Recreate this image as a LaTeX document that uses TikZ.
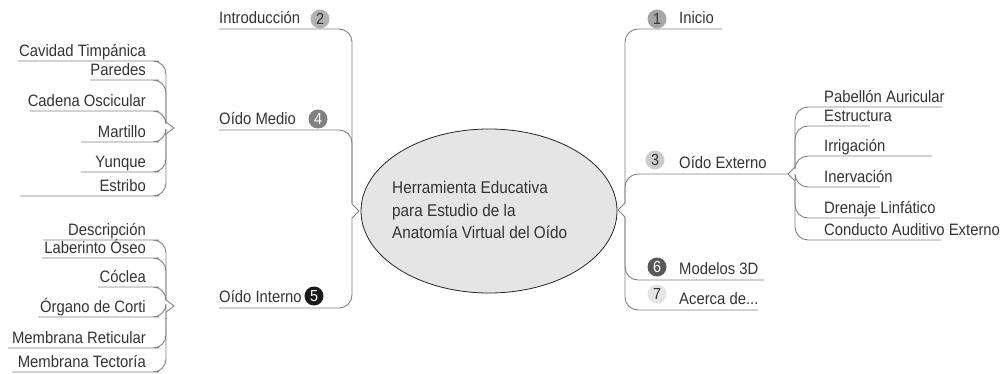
\documentclass[tikz,border=0pt]{standalone}
\usepackage{fontspec}
\setmainfont{Liberation Sans}[FakeStretch=0.9]
\usetikzlibrary{shapes.geometric}
\definecolor{txtgray}{HTML}{333333}
\definecolor{linegray}{HTML}{808080}
\tikzset{
  topic/.style={inner sep=0pt, inner ysep=5pt, text depth=0pt, text=txtgray,
    font=\fontsize{16.5}{19}\selectfont},
  leaf/.style={topic, inner ysep=4pt},
  badge/.style={circle, inner sep=0pt, minimum size=19pt, text=txtgray,
    font=\fontsize{16}{16}\selectfont},
  link/.style={draw=linegray, line width=0.9pt, rounded corners=13pt},
  notch/.style={draw=linegray, line width=0.9pt},
}
\begin{document}
\begin{tikzpicture}[x=1pt,y=-1pt]
\useasboundingbox (0,0) rectangle (1006,374);

% centre
\node[ellipse, draw=black!85, fill=black!10, line width=0.8pt, inner sep=0pt,
  minimum width=256pt, minimum height=164pt] (main) at (489,211) {};
\node[anchor=west, align=left, inner sep=0pt, text=txtgray,
  font=\fontsize{17}{22.5}\selectfont] (title) at (392,210)
  {Herramienta Educativa\\para Estudio de la\\Anatomía Virtual del Oído};

% left side
\coordinate (ltop) at (352,204);
\coordinate (ltip) at (359,211);
\coordinate (lbot) at (352,218);
\draw[notch] (ltop) -- (ltip) -- (lbot);

\node[topic, anchor=south west] (intro) at (219,29) {Introducción};
\node[badge, fill=black!30] (n2) at (320,19) {2};
\node[topic, anchor=south west] (medio) at (219,130) {Oído Medio};
\node[badge, fill=black!50, text=white] (n4) at (318,119) {4};
\node[topic, anchor=south west] (interno) at (219,308) {Oído Interno};
\node[badge, fill=black!90, text=white] (n5) at (314,296) {5};

\draw[link] (intro.south west) -| (ltop);
\draw[link] (medio.south west) -| (ltop);
\draw[link] (interno.south west) -| (lbot);

% oido medio
\coordinate (mtop) at (166,122);
\coordinate (mtip) at (174,128);
\coordinate (mbot) at (166,134);
\draw[notch] (mtop) -- (mtip) -- (mbot);

\node[leaf, anchor=south east] (cavidad) at (146,61) {Cavidad Timpánica};
\node[leaf, anchor=south east] (paredes) at (146,80) {Paredes};
\node[leaf, anchor=south east] (cadena) at (146,111) {Cadena Oscicular};
\node[leaf, anchor=south east] (martillo) at (146,142) {Martillo};
\node[leaf, anchor=south east] (yunque) at (146,172) {Yunque};
\node[leaf, anchor=south east] (estribo) at (146,196) {Estribo};

\draw[link] (mtop) |- (cavidad.south east) -- ++(-128,0);
\draw[link] (mtop) |- (paredes.south east) -- ++(-56,0);
\draw[link] (mtop) |- (cadena.south east) -- ++(-116,0);
\draw[link] (mbot) |- (martillo.south east) -- ++(-65,0);
\draw[link] (mbot) |- (yunque.south east) -- ++(-65,0);
\draw[link] (mbot) |- (estribo.south east) -- ++(-126,0);

% oido interno
\coordinate (itop) at (166,300);
\coordinate (itip) at (174,306);
\coordinate (ibot) at (166,312);
\draw[notch] (itop) -- (itip) -- (ibot);

\node[leaf, anchor=south east] (descr) at (146,240) {Descripción};
\node[leaf, anchor=south east] (laberinto) at (146,258) {Laberinto Óseo};
\node[leaf, anchor=south east] (coclea) at (146,287) {Cóclea};
\node[leaf, anchor=south east] (corti) at (146,317) {Órgano de Corti};
\node[leaf, anchor=south east] (reticular) at (146,348) {Membrana Reticular};
\node[leaf, anchor=south east] (tectoria) at (146,372) {Membrana Tectoría};

\draw[link] (itop) |- (descr.south east) -- ++(-103,0);
\draw[link] (itop) |- (laberinto.south east) -- ++(-104,0);
\draw[link] (itop) |- (coclea.south east) -- ++(-48,0);
\draw[link] (ibot) |- (corti.south east) -- ++(-108,0);
\draw[link] (ibot) |- (reticular.south east) -- ++(-138,0);
\draw[link] (ibot) |- (tectoria.south east) -- ++(-134,0);

% right side
\coordinate (rtop) at (625,203);
\coordinate (rtip) at (618,210);
\coordinate (rbot) at (625,217);
\draw[notch] (rtop) -- (rtip) -- (rbot);

\node[badge, fill=black!35] (n1) at (657,19) {1};
\node[topic, anchor=south west] (inicio) at (679,29) {Inicio};
\node[badge, fill=black!20] (n3) at (655,160) {3};
\node[topic, anchor=south west] (externo) at (679,174) {Oído Externo};
\node[badge, fill=black!65, text=white] (n6) at (657,267) {6};
\node[topic, anchor=south west] (modelos) at (679,280) {Modelos 3D};
\node[badge, fill=black!10] (n7) at (657,294) {7};
\node[topic, anchor=south west] (acerca) at (679,310) {Acerca de...};

% oido externo
\coordinate (etop) at (795,167);
\coordinate (etip) at (788,174);
\coordinate (ebot) at (795,181);
\draw[notch] (etop) -- (etip) -- (ebot);

\draw[link] (rtop) |- (inicio.south west) -- ++(43,0);
\draw[link] (rtop) |- (externo.south west) -- (etip);
\draw[link] (rbot) |- (modelos.south west) -- ++(85,0);
\draw[link] (rbot) |- (acerca.south west) -- ++(79,0);

\node[leaf, anchor=south west] (pabellon) at (824,107) {Pabellón Auricular};
\node[leaf, anchor=south west] (estructura) at (824,126) {Estructura};
\node[leaf, anchor=south west] (irrigacion) at (824,156) {Irrigación};
\node[leaf, anchor=south west] (inervacion) at (824,187) {Inervación};
\node[leaf, anchor=south west] (drenaje) at (824,218) {Drenaje Linfático};
\node[leaf, anchor=south west] (conducto) at (824,240) {Conducto Auditivo Externo};

\draw[link] (etop) |- (pabellon.south west) -- ++(118,0);
\draw[link] (etop) |- (estructura.south west) -- ++(46,0);
\draw[link] (etop) |- (irrigacion.south west) -- ++(108,0);
\draw[link] (ebot) |- (inervacion.south west) -- ++(56,0);
\draw[link] (ebot) |- (drenaje.south west) -- ++(56,0);
\draw[link] (ebot) |- (conducto.south west) -- ++(117,0);
\end{tikzpicture}
\end{document}
